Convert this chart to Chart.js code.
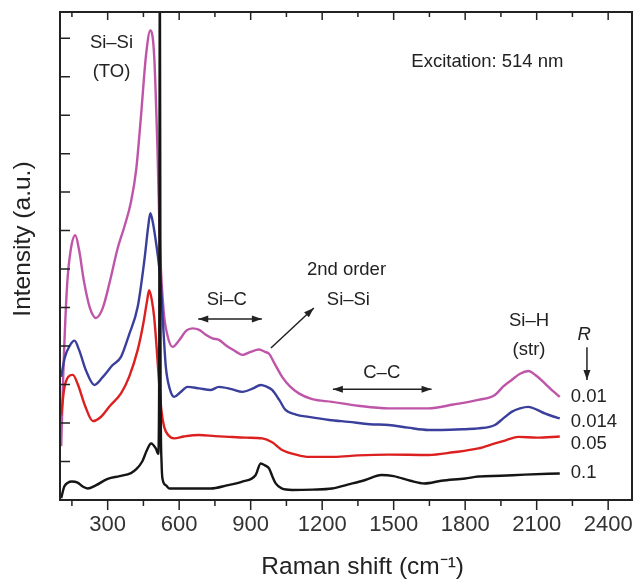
<!DOCTYPE html>
<html>
<head>
<meta charset="utf-8">
<script src="https://cdn.jsdelivr.net/npm/chart.js@4.4.0/dist/chart.umd.min.js"></script>
<style>
  html, body { margin: 0; padding: 0; background: #fff; }
</style>
</head>
<body>
<canvas id="raman" width="636" height="579"></canvas>
<script>
// Raman spectra (intensity in y-tick units, a.u.)
const shiftR001 = [105, 115, 130, 145, 164, 180, 200, 225, 251, 280, 310, 342, 370, 398, 420, 440, 461, 479, 495, 509, 520, 535, 550, 572, 600, 630, 656, 684, 710, 740, 767, 800, 840, 865, 900, 935, 960, 977, 1000, 1032, 1065, 1102, 1158, 1241, 1350, 1479, 1646, 1750, 1855, 1925, 1960, 1995, 2030, 2065, 2100, 2134, 2170, 2197];
const intensityR001 = [1.4, 3.5, 5.6, 6.5, 6.88, 6.5, 5.7, 5.0, 4.73, 5.0, 5.7, 6.54, 7.1, 7.75, 8.6, 9.99, 11.56, 12.2, 11.56, 9.1, 6.5, 4.9, 4.3, 3.98, 4.15, 4.4, 4.46, 4.42, 4.3, 4.2, 4.16, 4.0, 3.85, 3.77, 3.85, 3.91, 3.85, 3.8, 3.55, 3.2, 2.95, 2.77, 2.62, 2.55, 2.45, 2.38, 2.38, 2.48, 2.6, 2.73, 2.95, 3.12, 3.28, 3.35, 3.22, 3.03, 2.82, 2.68];

const shiftR0014 = [105, 120, 140, 161, 180, 210, 244, 280, 320, 356, 390, 426, 454, 470, 479, 490, 505, 516, 523, 535, 544, 560, 579, 605, 635, 684, 733, 767, 820, 865, 910, 942, 965, 990, 1020, 1046, 1090, 1144, 1230, 1311, 1400, 1479, 1560, 1646, 1700, 1800, 1855, 1925, 1960, 1995, 2030, 2065, 2100, 2134, 2170, 2197];
const intensityR0014 = [3.2, 3.7, 4.0, 4.14, 3.9, 3.35, 2.99, 3.2, 3.5, 3.72, 4.3, 5.02, 6.23, 7.1, 7.45, 7.2, 6.6, 6.06, 5.63, 4.3, 3.46, 2.9, 2.68, 2.8, 2.94, 2.9, 2.86, 2.94, 2.88, 2.81, 2.9, 2.99, 2.95, 2.86, 2.6, 2.34, 2.22, 2.16, 2.08, 2.03, 1.97, 1.95, 1.88, 1.82, 1.82, 1.84, 1.86, 1.95, 2.12, 2.29, 2.38, 2.42, 2.35, 2.25, 2.17, 2.12];

const shiftR005 = [105, 118, 135, 154, 175, 205, 238, 270, 310, 356, 390, 426, 450, 466, 474, 485, 495, 505, 516, 526, 537, 555, 579, 620, 684, 750, 809, 880, 949, 990, 1032, 1090, 1144, 1250, 1350, 1479, 1646, 1750, 1855, 1925, 1970, 2023, 2100, 2197];
const intensityR005 = [2.2, 2.9, 3.2, 3.25, 3.0, 2.45, 2.05, 2.15, 2.45, 2.77, 3.2, 3.9, 4.6, 5.2, 5.45, 5.2, 4.76, 4.0, 3.03, 2.3, 1.9, 1.68, 1.6, 1.65, 1.69, 1.66, 1.64, 1.62, 1.6, 1.5, 1.3, 1.18, 1.12, 1.12, 1.16, 1.18, 1.17, 1.24, 1.34, 1.47, 1.55, 1.64, 1.62, 1.65];

const shiftR01 = [105, 118, 133, 150, 174, 195, 216, 250, 300, 350, 398, 420, 445, 465, 482, 502, 512, 516, 519, 522, 526, 530, 545, 558, 650, 733, 800, 865, 921, 942, 960, 977, 992, 1005, 1030, 1074, 1160, 1241, 1320, 1381, 1448, 1500, 1570, 1629, 1700, 1800, 1855, 1950, 2050, 2197];
const intensityR01 = [0.05, 0.35, 0.45, 0.48, 0.45, 0.35, 0.3, 0.38, 0.55, 0.62, 0.7, 0.8, 1.0, 1.3, 1.47, 1.34, 1.2, 3, 14, 3, 1.0, 0.55, 0.38, 0.3, 0.3, 0.3, 0.38, 0.48, 0.65, 0.95, 0.9, 0.82, 0.6, 0.43, 0.3, 0.26, 0.27, 0.3, 0.42, 0.52, 0.65, 0.62, 0.5, 0.43, 0.5, 0.56, 0.61, 0.63, 0.66, 0.69];

const ratioLabels = ['0.01', '0.014', '0.05', '0.1'];
const xTickValues = [150, 300, 450, 600, 750, 900, 1050, 1200, 1350, 1500, 1650, 1800, 1950, 2100, 2250, 2400];
const xLabelValues = [300, 600, 900, 1200, 1500, 1800, 2100, 2400];
const yTickValues = [1, 2, 3, 4, 5, 6, 7, 8, 9, 10, 11, 12];

const xTitle = 'Raman shift (cm\u207B\u00B9)';
const yTitle = 'Intensity (a.u.)';

const FONT = "'Liberation Sans', Arial, sans-serif";

function toPoints(xs, ys) {
    return xs.map((x, i) => ({ x: x, y: ys[i] }));
}

// annotation texts / arrows, placed in data coordinates
const notes = [
    { text: 'Si\u2013Si', x: 316, y: 11.87 },
    { text: '(TO)', x: 316, y: 11.12 },
    { text: 'Excitation: 514 nm', x: 1574, y: 11.38, align: 'left' },
    { text: '2nd order', x: 1302, y: 5.97 },
    { text: 'Si\u2013Si', x: 1310, y: 5.19 },
    { text: 'Si\u2013C', x: 800, y: 5.19 },
    { text: 'C\u2013C', x: 1450, y: 3.3 },
    { text: 'Si\u2013H', x: 2068, y: 4.65 },
    { text: '(str)', x: 2068, y: 3.9 },
    { text: 'R', x: 2299, y: 4.29, italic: true },
    { text: ratioLabels[0], x: 2243, y: 2.68, align: 'left' },
    { text: ratioLabels[1], x: 2243, y: 2.03, align: 'left' },
    { text: ratioLabels[2], x: 2243, y: 1.45, align: 'left' },
    { text: ratioLabels[3], x: 2243, y: 0.70, align: 'left' }
];
const arrows = [
    { x1: 680, y1: 4.70, x2: 947, y2: 4.70, both: true },
    { x1: 985, y1: 3.95, x2: 1165, y2: 4.99, both: false },
    { x1: 1245, y1: 2.88, x2: 1659, y2: 2.88, both: true },
    { x1: 2311, y1: 3.97, x2: 2311, y2: 3.12, both: false }
];

function arrowHead(ctx, fx, fy, tx, ty) {
    const ang = Math.atan2(ty - fy, tx - fx);
    const len = 10, half = 3.5;
    ctx.beginPath();
    ctx.moveTo(tx, ty);
    ctx.lineTo(tx - len * Math.cos(ang) + half * Math.sin(ang), ty - len * Math.sin(ang) - half * Math.cos(ang));
    ctx.lineTo(tx - len * Math.cos(ang) - half * Math.sin(ang), ty - len * Math.sin(ang) + half * Math.cos(ang));
    ctx.closePath();
    ctx.fill();
}

const decorations = {
    id: 'decorations',
    afterDatasetsDraw(chart) {
        const { ctx, chartArea: a, scales: { x, y } } = chart;
        ctx.save();
        // ticks: bottom outward, top and left inward
        ctx.strokeStyle = '#222';
        ctx.lineWidth = 1.5;
        ctx.beginPath();
        xTickValues.forEach(v => {
            const px = x.getPixelForValue(v);
            const major = xLabelValues.includes(v);
            ctx.moveTo(px, a.bottom);
            ctx.lineTo(px, a.bottom + (major ? 10 : 6));
            ctx.moveTo(px, a.top);
            ctx.lineTo(px, a.top + (major ? 8 : 5));
        });
        yTickValues.forEach(v => {
            const py = y.getPixelForValue(v);
            ctx.moveTo(a.left, py);
            ctx.lineTo(a.left + 10, py);
        });
        ctx.stroke();
        ctx.lineWidth = 2;
        ctx.strokeRect(a.left, a.top, a.right - a.left, a.bottom - a.top);

        // text notes
        ctx.fillStyle = '#222';
        ctx.textBaseline = 'middle';
        notes.forEach(n => {
            ctx.font = (n.italic ? 'italic ' : '') + '18.5px ' + FONT;
            ctx.textAlign = n.align || 'center';
            ctx.fillText(n.text, x.getPixelForValue(n.x), y.getPixelForValue(n.y));
        });

        // arrows
        ctx.lineWidth = 1.5;
        arrows.forEach(r => {
            const x1 = x.getPixelForValue(r.x1), y1 = y.getPixelForValue(r.y1);
            const x2 = x.getPixelForValue(r.x2), y2 = y.getPixelForValue(r.y2);
            ctx.beginPath();
            ctx.moveTo(x1, y1);
            ctx.lineTo(x2, y2);
            ctx.stroke();
            arrowHead(ctx, x1, y1, x2, y2);
            if (r.both) arrowHead(ctx, x2, y2, x1, y1);
        });

        // axis titles (the originals sit a little off the axis centres)
        ctx.font = '24.5px ' + FONT;
        ctx.textAlign = 'center';
        ctx.fillText(xTitle, x.getPixelForValue(1370), 567);
        ctx.translate(23, y.getPixelForValue(6.78));
        ctx.rotate(-Math.PI / 2);
        ctx.fillText(yTitle, 0, 0);
        ctx.restore();
    }
};

function lineSet(label, xs, ys, color) {
    return {
        label: label,
        data: toPoints(xs, ys),
        borderColor: color,
        backgroundColor: color,
        borderWidth: 2.4,
        pointRadius: 0,
        cubicInterpolationMode: 'monotone',
        fill: false
    };
}

new Chart(document.getElementById('raman'), {
    type: 'line',
    data: {
        datasets: [
            lineSet('R = ' + ratioLabels[3], shiftR01, intensityR01, '#151515'),
            lineSet('R = ' + ratioLabels[2], shiftR005, intensityR005, '#dc2020'),
            lineSet('R = ' + ratioLabels[1], shiftR0014, intensityR0014, '#3a3f9c'),
            lineSet('R = ' + ratioLabels[0], shiftR001, intensityR001, '#bf55a8')
        ]
    },
    options: {
        responsive: false,
        animation: false,
        layout: { padding: { left: 0, right: 4, top: 12, bottom: 0 } },
        plugins: {
            legend: { display: false },
            tooltip: { enabled: false }
        },
        scales: {
            x: {
                type: 'linear',
                min: 100,
                max: 2500,
                afterBuildTicks: scale => {
                    scale.ticks = xTickValues.map(v => ({ value: v }));
                },
                afterFit: scale => { scale.height = 79; },
                grid: { display: false, drawTicks: true, tickLength: 10 },
                border: { display: false },
                ticks: {
                    autoSkip: false,
                    maxRotation: 0,
                    padding: 2,
                    color: '#333',
                    font: { family: FONT, size: 22 },
                    callback: v => xLabelValues.includes(v) ? String(v) : ''
                },
                title: { display: false }
            },
            y: {
                min: 0,
                max: 12.68,
                afterBuildTicks: scale => {
                    scale.ticks = yTickValues.map(v => ({ value: v }));
                },
                afterFit: scale => { scale.width = 60; },
                grid: { display: false, drawTicks: false },
                border: { display: false },
                ticks: { display: false },
                title: { display: false }
            }
        }
    },
    plugins: [decorations]
});
</script>
</body>
</html>
